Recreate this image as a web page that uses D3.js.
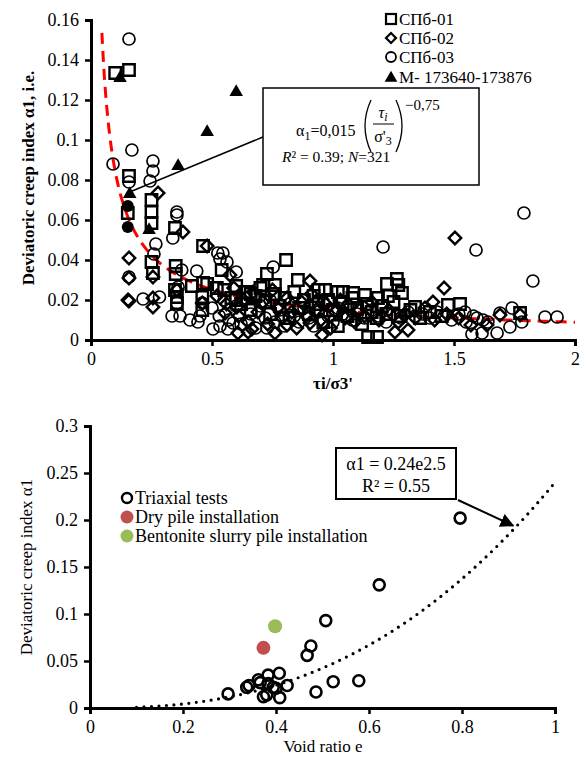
<!DOCTYPE html>
<html>
<head>
<meta charset="utf-8">
<script src="https://cdn.jsdelivr.net/npm/d3@7"></script>
<style>
  body { margin: 0; background: #fff; }
  svg text { font-family: "Liberation Serif", "Times New Roman", serif; fill: #000; }
</style>
</head>
<body>
<svg id="chart" width="581" height="760"></svg>
<script>

// ---- top chart data: [tau_i/sigma'3, alpha1]
let spb01 = [ [0.10,0.1335],[0.157,0.135],[0.157,0.082],[0.152,0.0635],[0.25,0.070],[0.25,0.064],[0.25,0.0585],
  [0.347,0.056],[0.25,0.039],[0.256,0.0335],[0.35,0.037],[0.35,0.033],[0.463,0.047],[0.347,0.025],[0.417,0.027],
  [0.463,0.0285],[0.48,0.028],[0.52,0.026],[0.54,0.035],[0.806,0.040],[0.727,0.033],[0.855,0.030],[0.76,0.0275],
  [0.711,0.0275],[0.967,0.025],[1.02,0.024],[1.041,0.024],[1.083,0.0235],[1.132,0.0225],[1.186,0.021],
  [1.223,0.028],[1.264,0.0305],[1.27,0.0275],[1.285,0.0235],[1.227,0.022],[1.475,0.0175],[1.525,0.018],
  [1.339,0.0165],[1.145,0.0015],[1.182,0.0015],[1.773,0.0135],
  [0.55,0.025],[0.58,0.021],[0.60,0.027],[0.62,0.018],[0.64,0.024],[0.66,0.015],[0.68,0.022],[0.70,0.026],
  [0.72,0.019],[0.74,0.013],[0.76,0.023],[0.78,0.017],[0.80,0.021],[0.82,0.011],[0.84,0.024],[0.86,0.016],
  [0.88,0.020],[0.90,0.013],[0.92,0.022],[0.94,0.018],[0.96,0.009],[0.98,0.020],[1.00,0.015],[1.02,0.007],
  [1.04,0.019],[1.06,0.012],[1.08,0.021],[1.10,0.016],[1.12,0.008],[1.14,0.018],[1.16,0.014],[1.18,0.011],
  [1.20,0.017],[1.22,0.013],[1.25,0.019],[1.28,0.012],[1.32,0.015],[1.36,0.011],[1.40,0.014],[1.45,0.012],
  [0.355,0.0215],[0.355,0.0185],[0.46,0.0215],[0.46,0.015],[0.60,0.020],[0.66,0.023],[0.94,0.025] ]

let spb02 = [ [0.277,0.0735],[0.38,0.054],[0.157,0.041],[0.157,0.031],[0.153,0.020],[0.157,0.0195],
  [0.256,0.0315],[0.256,0.021],[0.256,0.0165],[0.48,0.047],[0.574,0.0325],[0.607,0.0035],[0.76,0.0035],
  [0.665,0.0055],[0.649,0.004],[0.81,0.0075],[0.955,0.0025],[0.905,0.0085],[0.554,0.0135],[0.603,0.0165],
  [0.905,0.0295],[1.504,0.051],[1.459,0.026],[1.413,0.019],[1.256,0.004],[1.31,0.005],[1.69,0.0125],
  [1.773,0.0125],[1.57,0.0075],[1.636,0.0075],[0.46,0.0185],[0.355,0.025],
  [0.52,0.022],[0.56,0.018],[0.59,0.026],[0.61,0.012],[0.63,0.020],[0.65,0.009],[0.67,0.024],[0.69,0.014],
  [0.71,0.019],[0.73,0.008],[0.75,0.025],[0.77,0.016],[0.79,0.011],[0.81,0.021],[0.83,0.014],[0.85,0.006],
  [0.87,0.019],[0.89,0.012],[0.91,0.023],[0.93,0.015],[0.95,0.010],[0.97,0.018],[0.99,0.006],[1.01,0.014],
  [1.03,0.020],[1.05,0.011],[1.07,0.017],[1.09,0.009],[1.11,0.015],[1.13,0.012],[1.16,0.019],[1.19,0.010],
  [1.23,0.015],[1.27,0.009],[1.30,0.013],[1.34,0.011],[1.38,0.016],[1.42,0.010],[1.47,0.013],[1.52,0.011] ]

let spb03 = [ [0.157,0.1505],[0.091,0.088],[0.169,0.095],[0.157,0.079],[0.256,0.0895],[0.256,0.0845],
  [0.244,0.0795],[0.355,0.064],[0.355,0.0625],[0.338,0.051],[0.268,0.048],[0.26,0.043],[0.157,0.0315],
  [0.215,0.0205],[0.283,0.0215],[0.375,0.035],[0.437,0.0345],[0.524,0.0435],[0.533,0.0405],[0.562,0.039],
  [0.60,0.034],[0.753,0.0365],[0.36,0.0265],[0.335,0.012],[0.368,0.012],[0.409,0.010],[0.442,0.009],
  [0.45,0.012],[0.504,0.0055],[0.533,0.007],[0.566,0.0055],[0.587,0.0085],[0.727,0.006],[0.545,0.0435],
  [1.207,0.0465],[1.789,0.0635],[1.591,0.045],[1.826,0.0295],[1.595,0.011],[1.574,0.003],[1.616,0.0035],
  [1.64,0.009],[1.678,0.0035],[1.69,0.0135],[1.731,0.0065],[1.74,0.016],[1.78,0.009],[1.876,0.0115],
  [1.926,0.0115],[1.545,0.014],[0.355,0.0185],[0.46,0.0185],
  [0.50,0.016],[0.53,0.012],[0.55,0.020],[0.57,0.010],[0.60,0.017],[0.62,0.008],[0.64,0.021],[0.66,0.013],
  [0.68,0.006],[0.70,0.017],[0.72,0.011],[0.74,0.020],[0.76,0.009],[0.78,0.015],[0.80,0.007],[0.82,0.018],
  [0.84,0.012],[0.86,0.009],[0.88,0.016],[0.90,0.011],[0.92,0.007],[0.94,0.014],[0.96,0.019],[0.98,0.012],
  [1.00,0.009],[1.02,0.016],[1.04,0.013],[1.06,0.017],[1.08,0.010],[1.10,0.013],[1.13,0.011],[1.16,0.015],
  [1.19,0.012],[1.22,0.009],[1.25,0.013],[1.28,0.011],[1.31,0.014],[1.34,0.012],[1.37,0.013],[1.40,0.011],
  [1.43,0.014],[1.46,0.012],[1.49,0.010],[1.52,0.013],[1.55,0.009],[1.58,0.012],[1.62,0.010] ]

let m173 = [ [0.12,0.131],[0.16,0.073],[0.24,0.055],[0.36,0.087],[0.48,0.104],[0.60,0.124] ]
let filledDots = [ [0.152,0.067],[0.152,0.0565] ]

let topLegend = ["СПб-01", "СПб-02", "СПб-03", "M- 173640-173876"]
let topXTicks = [0, 0.5, 1, 1.5, 2]
let topYTicks = [0, 0.02, 0.04, 0.06, 0.08, 0.1, 0.12, 0.14, 0.16]
let fitA = 0.015, fitB = -0.75

// ---- bottom chart data: [void ratio e, alpha1]
let triaxial = [ [0.297,0.015],[0.337,0.022],[0.342,0.024],[0.362,0.030],[0.373,0.012],[0.38,0.014],
  [0.383,0.035],[0.383,0.026],[0.394,0.022],[0.407,0.037],[0.408,0.011],[0.40,0.021],[0.424,0.024],
  [0.366,0.027],[0.486,0.017],[0.523,0.028],[0.578,0.029],[0.467,0.056],[0.475,0.066],[0.507,0.093],
  [0.622,0.131],[0.796,0.202] ]
let dryPile = [ [0.373,0.064] ]
let slurryPile = [ [0.398,0.087] ]
let botLegend = ["Triaxial tests", "Dry pile installation", "Bentonite slurry pile installation"]
let botXTicks = [0, 0.2, 0.4, 0.6, 0.8, 1]
let botYTicks = [0, 0.05, 0.1, 0.15, 0.2, 0.25, 0.3]
let expA = 0.24, expB = 2.5

let svg = d3.select('#chart')

function drawAxes(x, y, xt, yt, fmtY){
    let g = svg.append('g')
    g.append('g')
        .attr('transform', 'translate(0,' + y.range()[0] + ')')
        .call(d3.axisBottom(x).tickValues(xt).tickSize(6).tickPadding(6).tickFormat(d3.format('')))
    g.append('g')
        .attr('transform', 'translate(' + x.range()[0] + ',0)')
        .call(d3.axisLeft(y).tickValues(yt).tickSize(6).tickPadding(6).tickFormat(fmtY))
    g.selectAll('.domain').attr('stroke', '#000').attr('stroke-width', 3)
    g.selectAll('.tick line').attr('stroke', '#000').attr('stroke-width', 2.5)
    g.selectAll('.tick text').style('font-size', '18px').style('font-family', '"Liberation Serif", serif')
    return g
}

// ================= TOP CHART =================
let x1 = d3.scaleLinear().domain([0, 2]).range([91, 575])
let y1 = d3.scaleLinear().domain([0, 0.16]).range([340, 20])

// fitted power curve
let fitPts = d3.range(0.045, 2.001, 0.005).map(v => [v, fitA*Math.pow(v, fitB)]).filter(p => p[1] <= 0.16)
svg.append('path')
    .attr('d', d3.line().x(d => x1(d[0])).y(d => y1(d[1]))(fitPts))
    .attr('fill', 'none').attr('stroke', '#ff0000').attr('stroke-width', 3)
    .attr('stroke-dasharray', '11,7')

let sq = d3.symbol().type(d3.symbolSquare).size(130)
let tri = d3.symbol().type(d3.symbolTriangle).size(80)

svg.append('g').selectAll('path').data(spb01).join('path')
    .attr('d', sq).attr('transform', d => 'translate(' + x1(d[0]) + ',' + y1(d[1]) + ')')
    .attr('fill', 'none').attr('stroke', '#000').attr('stroke-width', 2.4)

svg.append('g').selectAll('path').data(spb02).join('path')
    .attr('d', d3.symbol().type(d3.symbolSquare).size(78))
    .attr('transform', d => 'translate(' + x1(d[0]) + ',' + y1(d[1]) + ') rotate(45)')
    .attr('fill', 'none').attr('stroke', '#000').attr('stroke-width', 2.4)

svg.append('g').selectAll('circle').data(spb03).join('circle')
    .attr('cx', d => x1(d[0])).attr('cy', d => y1(d[1])).attr('r', 6)
    .attr('fill', 'none').attr('stroke', '#000').attr('stroke-width', 1.7)

svg.append('g').selectAll('circle').data(filledDots).join('circle')
    .attr('cx', d => x1(d[0])).attr('cy', d => y1(d[1])).attr('r', 6)
    .attr('fill', '#000')

svg.append('g').selectAll('path').data(m173).join('path')
    .attr('d', tri).attr('transform', d => 'translate(' + x1(d[0]) + ',' + y1(d[1]) + ')')
    .attr('fill', '#000')

drawAxes(x1, y1, topXTicks, topYTicks, d3.format(''))

// axis titles
svg.append('text').attr('x', 333).attr('y', 389).attr('text-anchor', 'middle')
    .style('font-size', '17px').style('font-weight', 'bold').text("τi/σ3'")
svg.append('text').attr('transform', 'translate(34,178) rotate(-90)').attr('text-anchor', 'middle')
    .style('font-size', '17px').style('font-weight', 'bold').text('Deviatoric creep index α1, i.e.')

// annotation box + leader line
svg.append('line').attr('x1', 263).attr('y1', 137).attr('x2', x1(0.16)).attr('y2', y1(0.073) - 2)
    .attr('stroke', '#000').attr('stroke-width', 1.5)
svg.append('rect').attr('x', 263).attr('y', 88).attr('width', 216).attr('height', 97)
    .attr('fill', '#fff').attr('stroke', '#000').attr('stroke-width', 1.5)

let f = svg.append('g').style('font-size', '16px')
let t1 = f.append('text').attr('x', 296).attr('y', 136)
t1.append('tspan').text('α')
t1.append('tspan').attr('dy', 4).style('font-size', '12px').text('1')
t1.append('tspan').attr('dy', -4).text('=0,015')
f.append('path').attr('d', 'M371,100 Q359,126 371,152').attr('fill', 'none').attr('stroke', '#000').attr('stroke-width', 1.3)
f.append('path').attr('d', 'M396,100 Q408,126 396,152').attr('fill', 'none').attr('stroke', '#000').attr('stroke-width', 1.3)
let tau = f.append('text').attr('x', 383).attr('y', 118).attr('text-anchor', 'middle').style('font-style', 'italic')
tau.append('tspan').text('τ')
tau.append('tspan').attr('dy', 3).style('font-size', '12px').text('i')
f.append('line').attr('x1', 373).attr('x2', 394).attr('y1', 124).attr('y2', 124).attr('stroke', '#000').attr('stroke-width', 1)
let sig = f.append('text').attr('x', 383).attr('y', 142).attr('text-anchor', 'middle')
sig.append('tspan').text("σ'")
sig.append('tspan').attr('dy', 3).style('font-size', '12px').text('3')
f.append('text').attr('x', 405).attr('y', 110).style('font-size', '15px').text('−0,75')
let t2 = f.append('text').attr('x', 282).attr('y', 162).style('font-size', '15.5px')
t2.append('tspan').style('font-style', 'italic').text('R')
t2.append('tspan').text('² = 0.39; ')
t2.append('tspan').style('font-style', 'italic').text('N')
t2.append('tspan').text('=321')

// top legend
let lg = svg.append('g')
let legY = [19, 38, 57, 77]
topLegend.forEach((name, i) => {
    let cx = 391, cy = legY[i]
    if (i === 0) lg.append('rect').attr('x', cx-5).attr('y', cy-5).attr('width', 10).attr('height', 10)
        .attr('fill', 'none').attr('stroke', '#000').attr('stroke-width', 2.2)
    if (i === 1) lg.append('path').attr('d', d3.symbol().type(d3.symbolSquare).size(50))
        .attr('transform', 'translate(' + cx + ',' + cy + ') rotate(45)')
        .attr('fill', 'none').attr('stroke', '#000').attr('stroke-width', 2.2)
    if (i === 2) lg.append('circle').attr('cx', cx).attr('cy', cy).attr('r', 5)
        .attr('fill', 'none').attr('stroke', '#000').attr('stroke-width', 1.8)
    if (i === 3) lg.append('path').attr('d', d3.symbol().type(d3.symbolTriangle).size(70))
        .attr('transform', 'translate(' + cx + ',' + (cy+1) + ')').attr('fill', '#000')
    lg.append('text').attr('x', 399).attr('y', cy + 6).style('font-size', '17px').text(name)
})

// ================= BOTTOM CHART =================
let x2 = d3.scaleLinear().domain([0, 1]).range([90, 555])
let y2 = d3.scaleLinear().domain([0, 0.3]).range([708, 426])

let trend = d3.range(0.1, 1.0001, 0.01).map(v => [v, expA*Math.pow(v, expB)])
svg.append('path')
    .attr('d', d3.line().x(d => x2(d[0])).y(d => y2(d[1]))(trend))
    .attr('fill', 'none').attr('stroke', '#000').attr('stroke-width', 3.2)
    .attr('stroke-linecap', 'round').attr('stroke-dasharray', '0,7.5')

svg.append('g').selectAll('circle').data(triaxial).join('circle')
    .attr('cx', d => x2(d[0])).attr('cy', d => y2(d[1])).attr('r', 5.5)
    .attr('fill', 'none').attr('stroke', '#000').attr('stroke-width', 2.6)
svg.append('g').selectAll('circle').data(dryPile).join('circle')
    .attr('cx', d => x2(d[0])).attr('cy', d => y2(d[1])).attr('r', 7).attr('fill', '#c0504d')
svg.append('g').selectAll('circle').data(slurryPile).join('circle')
    .attr('cx', d => x2(d[0])).attr('cy', d => y2(d[1])).attr('r', 7).attr('fill', '#9bbb59')

drawAxes(x2, y2, botXTicks, botYTicks, d3.format(''))

svg.append('text').attr('x', 323).attr('y', 752).attr('text-anchor', 'middle')
    .style('font-size', '17px').text('Void ratio e')
svg.append('text').attr('transform', 'translate(32,567) rotate(-90)').attr('text-anchor', 'middle')
    .style('font-size', '17px').text('Deviatoric creep index α1')

// bottom legend
let bl = svg.append('g')
let botColors = [null, '#c0504d', '#9bbb59']
botLegend.forEach((name, i) => {
    let cy = 498 + i*19
    if (i === 0) bl.append('circle').attr('cx', 127).attr('cy', cy).attr('r', 5)
        .attr('fill', 'none').attr('stroke', '#000').attr('stroke-width', 2.4)
    else bl.append('circle').attr('cx', 127).attr('cy', cy).attr('r', 6.5).attr('fill', botColors[i])
    bl.append('text').attr('x', 135).attr('y', cy + 6).style('font-size', '18px').text(name)
})

// equation box with arrow
svg.append('defs').append('marker').attr('id', 'arr').attr('viewBox', '0 0 10 10')
    .attr('refX', 9).attr('refY', 5).attr('markerWidth', 7).attr('markerHeight', 7)
    .attr('orient', 'auto').attr('markerUnits', 'strokeWidth')
    .append('path').attr('d', 'M0,0 L10,5 L0,10 z').attr('fill', '#000')
svg.append('line').attr('x1', 458).attr('y1', 500).attr('x2', x2(0.91)).attr('y2', y2(0.194))
    .attr('stroke', '#000').attr('stroke-width', 2).attr('marker-end', 'url(#arr)')
svg.append('rect').attr('x', 336).attr('y', 448).attr('width', 120).attr('height', 51)
    .attr('fill', '#fff').attr('stroke', '#000').attr('stroke-width', 2)
svg.append('text').attr('x', 396).attr('y', 470).attr('text-anchor', 'middle').style('font-size', '18px').text('α1 = 0.24e2.5')
svg.append('text').attr('x', 396).attr('y', 492).attr('text-anchor', 'middle').style('font-size', '18px').text('R² = 0.55')

</script>
</body>
</html>
